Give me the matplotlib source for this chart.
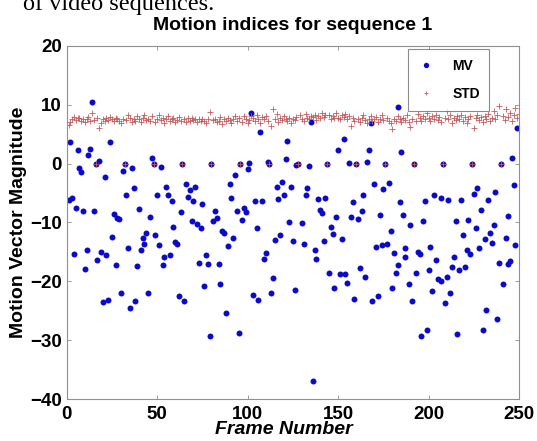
import matplotlib
matplotlib.use("Agg")
from matplotlib import pyplot as plt

# motion vector magnitude (frame, value)
mv_frames = [1, 2, 3, 4, 5, 6, 7, 8, 9, 10, 11, 12, 13, 14, 15, 16, 17, 18, 19, 20,
             21, 22, 23, 24, 25, 26, 27, 28, 29, 30, 31, 32, 33, 34, 35, 36, 37, 38, 39, 40,
             41, 42, 43, 44, 45, 46, 47, 48, 49, 50, 51, 52, 53, 54, 55, 56, 57, 58, 59, 60,
             61, 62, 63, 64, 65, 66, 67, 68, 69, 70, 71, 72, 73, 74, 75, 76, 77, 78, 79, 80,
             81, 82, 83, 84, 85, 86, 87, 88, 89, 90, 91, 92, 93, 94, 95, 96, 97, 98, 99, 100,
             101, 102, 103, 104, 105, 106, 107, 108, 109, 110, 111, 112, 113, 114, 115, 116, 117, 118, 119, 120,
             121, 122, 123, 124, 125, 126, 127, 128, 130, 131, 132, 133, 134, 135, 136, 137, 138, 139, 140,
             141, 142, 143, 144, 145, 146, 147, 148, 149, 150, 151, 152, 153, 154, 155, 156, 157, 158, 159, 160,
             161, 162, 163, 164, 165, 166, 167, 168, 169, 170, 171, 172, 173, 174, 175, 176, 177, 178, 179, 180,
             181, 182, 183, 183, 184, 185, 186, 187, 187, 189, 190, 191, 192, 193, 194, 195, 196, 197, 198, 199, 200,
             201, 202, 203, 204, 205, 207, 207, 208, 209, 210, 211, 212, 213, 214, 215, 216, 217, 218, 219, 220,
             221, 222, 223, 224, 225, 226, 227, 228, 229, 230, 231, 232, 233, 234, 235, 236, 237, 238, 239, 240,
             241, 243, 244, 244, 245, 246, 247, 248, 249]
mv_values = [-6.2, 3.6, -5.8, -15.3, -7.6, 2.3, -0.7, -1.4, -8.1, -17.9, -14.7, 1.4, 2.5, 10.5, -8.0, 0, -16.3, 0.5, -15.0, -23.5,
             -2.2, -15.5, -23.1, 3.6, -12.4, -8.6, -17.2, -9.2, -9.4, -22.0, -1.2, 0, -5.3, -14.4, -24.5, -0.8, -4.1, -23.4, -17.4, -7.7,
             -14.6, -12.7, -13.6, -11.7, -21.9, -9.1, 1.0, 0, -12.2, -5.4, -13.8, -0.6, -17.2, -15.9, -3.9, -5.4, -15.5, -6.3, -10.7, -13.3,
             -13.6, -22.5, -8.2, 0, -23.3, -3.4, -5.6, -4.5, -9.7, -6.4, -3.9, -10.2, -16.9, -11.0, -6.8, -20.7, -15.5, -17.0, -29.2, 0,
             -9.8, -8.0, -9.3, -17.0, -20.5, -11.5, -11.8, -25.4, -14.0, -3.5, -5.8, -12.7, -2.0, -8.0, -28.8, 0, -9.5, -7.5, -8.2, -1.0,
             0.1, 8.6, -22.3, -6.3, -11.0, -23.1, 5.3, -6.3, -16.2, -15.2, 0.3, 0, -22.0, -19.5, -12.9, -3.9, -6.0, -12.2, -3.1, -5.4,
             0.7, 3.9, -9.9, -3.9, -13.1, -21.5, -0.3, 0, -10.1, -13.6, -5.3, -4.1, -0.5, 7.1, -36.9, -14.7, -16.2, -6.0, -7.9,
             -8.4, -13.1, -5.9, 0, -18.5, -10.8, -11.9, -21.1, -9.1, 2.3, -18.7, -12.8, 4.2, -18.7, -20.2, 0.1, -9.1, -6.6, -22.9, 0,
             -9.4, -17.8, -8.0, -5.4, -19.2, 0.3, 2.3, 6.9, -23.3, -3.4, -14.2, -22.5, -8.8, -13.8, -4.3, 0, -13.6, -3.3, -11.4, -21.2,
             -15.2, -18.5, -17.2, 9.6, -6.6, 2.0, -8.7, -15.8, -14.3, -20.5, -10.5, -23.3, 0, -18.5, -15.0, -15.4, -29.2, -9.7, -6.3, -28.2, -18.1,
             -14.1, -21.7, -5.3, -16.3, -19.6, -19.9, -5.9, 0, -23.6, -19.3, -6.1, -21.9, -17.6, -15.9, -9.8, -28.9, -18.0, -6.1, -12.1, -17.5,
             -14.6, -9.6, -15.4, 0, -5.2, -10.9, -4.1, -14.3, -7.8, -28.2, -12.8, -24.8, -6.2, -11.8, -13.4, -10.4, -4.9, -26.3, -16.9, 0,
             -20.4, -12.7, -17.1, -8.9, -16.6, 0.95, -3.7, -13.9, 6.1]

# standard deviation, one value per frame 1..250
std_frames = list(range(1, 251))
std_values = [6.6, 7.0, 7.6, 7.9, 7.4, 7.7, 7.8, 7.3, 7.5, 7.1, 7.6, 7.9, 7.2, 8.6, 7.4, 0, 7.7, 6.0, 6.9, 7.5, 7.3, 7.8, 7.4, 7.9, 7.6,
              7.2, 7.8, 7.5, 7.3, 6.9, 7.6, 0, 7.4, 8.2, 7.7, 7.1, 7.6, 7.3, 8.0, 7.5, 7.0, 7.8, 8.3, 7.4, 7.6, 7.2, 8.1, 0, 7.0, 7.5,
              8.2, 7.4, 7.8, 6.9, 7.6, 8.0, 7.3, 7.5, 7.8, 7.1, 7.4, 7.9, 7.2, 0, 7.5, 7.0, 7.8, 7.3, 7.7, 7.4, 7.6, 7.1, 7.5, 7.2, 7.6,
              7.3, 6.9, 7.5, 8.7, 0, 7.4, 7.6, 7.1, 7.3, 7.9, 6.7, 7.5, 7.2, 7.8, 7.4, 6.9, 7.6, 8.1, 7.3, 7.7, 0, 7.0, 8.0, 7.5, 6.9,
              7.4, 8.1, 7.7, 7.2, 8.3, 7.5, 6.8, 7.9, 7.6, 8.0, 7.3, 0, 6.3, 9.3, 7.5, 8.4, 7.1, 7.7, 7.4, 8.0, 7.5, 7.2, 7.8, 6.9, 7.6,
              7.4, 7.9, 0, 8.2, 7.6, 7.3, 8.4, 7.8, 7.6, 8.1, 7.9, 8.3, 7.4, 8.0, 7.7, 8.5, 7.9, 8.2, 0, 8.3, 7.5, 8.0, 7.8, 8.6, 7.7,
              7.5, 8.2, 7.9, 8.4, 7.6, 8.0, 6.4, 7.7, 7.2, 0, 7.5, 7.0, 7.8, 8.3, 7.4, 6.9, 7.6, 8.0, 7.3, 7.6, 7.9, 7.1, 7.5, 8.2, 7.4,
              0, 7.7, 7.3, 6.8, 5.8, 7.5, 7.2, 8.0, 7.6, 7.1, 7.8, 7.4, 8.3, 7.0, 6.2, 7.6, 0, 7.3, 8.4, 7.7, 7.2, 8.1, 7.5, 8.5, 7.8,
              7.2, 8.0, 7.6, 8.3, 7.4, 7.9, 7.1, 0, 7.7, 9.0, 7.5, 8.2, 6.9, 7.8, 7.4, 8.0, 7.6, 8.3, 7.2, 7.9, 6.8, 7.5, 8.1, 0, 6.0,
              7.7, 8.2, 7.4, 7.9, 7.1, 8.0, 7.6, 8.4, 7.2, 7.8, 9.0, 7.5, 8.3, 9.8, 0, 8.1, 7.4, 9.2, 7.9, 8.6, 7.3, 8.2, 9.5, 7.8, 8.4]

x_ticks = [0, 50, 100, 150, 200, 250]
y_ticks = [-40, -30, -20, -10, 0, 10, 20]

plt.rcParams['font.family'] = ['Liberation Sans', 'DejaVu Sans']

fig = plt.figure(figsize=(5.37, 4.41), dpi=100)
ax = fig.add_axes([0.1242, 0.0946, 0.8423, 0.8018])

ax.plot(mv_frames, mv_values, 'o', color='#0a0ac8', markersize=4.3, markeredgewidth=0, label='MV')
ax.plot(std_frames, std_values, '+', color='#c25c5e', markersize=3.8, markeredgewidth=0.6, label='STD')

ax.set_xlim(0, 250)
ax.set_ylim(-40, 20)
ax.set_xticks(x_ticks)
ax.set_yticks(y_ticks)
ax.tick_params(direction='in', top=True, right=True, length=3, width=0.6, color='#8a8a8a',
               labelsize=13.5)
ax.tick_params(axis='x', pad=4.5)
ax.tick_params(axis='y', pad=3.5)
for lab in ax.get_xticklabels() + ax.get_yticklabels():
    lab.set_fontweight('bold')
for sp in ax.spines.values():
    sp.set_color('#909090')
    sp.set_linewidth(0.8)

ax.set_title('Motion indices for sequence 1', fontsize=14, fontweight='bold', pad=11.5)
ax.set_xlabel('Frame Number', fontsize=14, fontweight='bold', style='italic', labelpad=1)
ax.xaxis.set_label_coords(0.48, -0.062)
ax.set_ylabel('Motion Vector Magnitude', fontsize=14, fontweight='bold', labelpad=2.5)

leg = ax.legend(loc='upper right', bbox_to_anchor=(0.9346, 0.99), fancybox=False,
                prop={'weight': 'bold', 'size': 10}, handlelength=1.2, borderpad=0.7,
                labelspacing=1.0, handletextpad=1.3, borderaxespad=0, markerscale=0.9)
leg.get_frame().set_edgecolor('#707070')
leg.get_frame().set_linewidth(0.8)

# leftover caption text from the page above the figure
fig.text(0.043, 0.977, 'of video sequences.', fontsize=17.5, family='Liberation Serif', va='baseline')

fig.savefig('out.png', dpi=100)
